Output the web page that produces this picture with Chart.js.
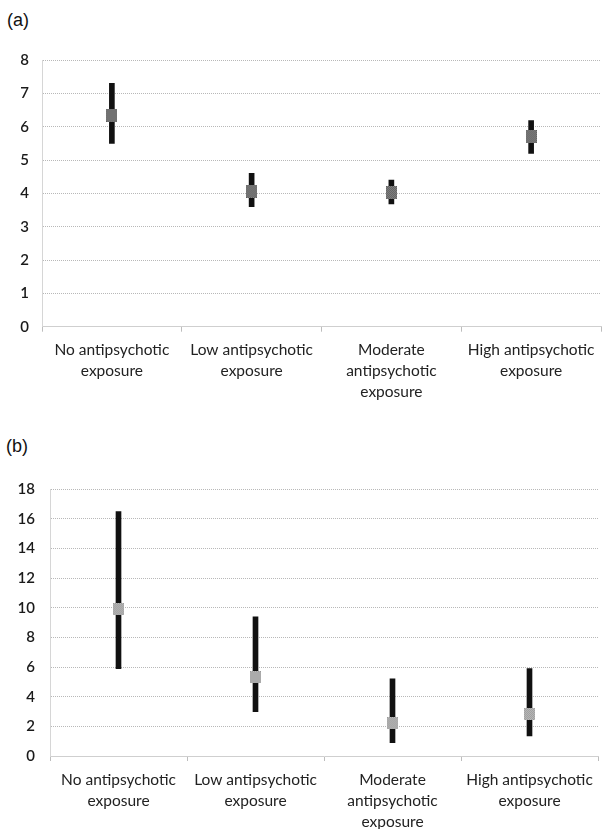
<!DOCTYPE html>
<html>
<head>
<meta charset="utf-8">
<script src="https://cdn.jsdelivr.net/npm/chart.js@4.4.1/dist/chart.umd.min.js"></script>
<style>
  html, body { margin: 0; padding: 0; background: #fff; width: 604px; height: 829px; overflow: hidden; position: relative; }
  .panel { position: absolute; font-family: "Liberation Sans", Arial, sans-serif; font-size: 18px; color: #111; }
  canvas { position: absolute; left: 0; }
</style>
</head>
<body>
<div class="panel" style="left:7px; top:10px;">(a)</div>
<div class="panel" style="left:6px; top:436px;">(b)</div>
<canvas id="chartA" width="608" height="410" style="top:0px;"></canvas>
<canvas id="chartB" width="605" height="399" style="top:430px;"></canvas>
<script>
// ---- data ----
const categories = [
  ["No antipsychotic", "exposure"],
  ["Low antipsychotic", "exposure"],
  ["Moderate", "antipsychotic", "exposure"],
  ["High antipsychotic", "exposure"]
];
// Panel (a)
const meanA  = [6.35, 4.07, 4.02, 5.70];
const lowerA = [5.50, 3.60, 3.68, 5.20];
const upperA = [7.30, 4.60, 4.40, 6.18];
const yTicksA = { min: 0, max: 8, step: 1 };
// Panel (b)
const meanB  = [9.9, 5.3, 2.2, 2.85];
const lowerB = [5.9, 3.0, 0.9, 1.35];
const upperB = [16.5, 9.4, 5.2, 5.9];
const yTicksB = { min: 0, max: 18, step: 2 };

function makeMarker(c1, c2, w, h) {
  const cv = document.createElement('canvas');
  cv.width = w; cv.height = h;
  const g = cv.getContext('2d');
  for (let y = 0; y < h; y++) {
    for (let x = 0; x < w; x++) {
      g.fillStyle = ((x + y) % 2 === 0) ? c1 : c2;
      g.fillRect(x, y, 1, 1);
    }
  }
  return cv;
}

const FONT = "Lato, 'Open Sans', sans-serif";

function buildChart(id, mean, lower, upper, yt, opts) {
  const ranges = lower.map((l, i) => [l, upper[i]]);
  return new Chart(document.getElementById(id), {
    type: 'bar',
    data: {
      labels: categories,
      datasets: [
        {
          type: 'line',
          data: mean,
          showLine: false,
          pointStyle: opts.marker,
          pointRadius: 6,
          pointHoverRadius: 6,
          order: 0
        },
        {
          type: 'bar',
          data: ranges,
          backgroundColor: '#111111',
          borderWidth: 0,
          barThickness: 5,
          order: 1
        }
      ]
    },
    options: {
      responsive: false,
      animation: false,
      events: [],
      layout: { padding: { top: opts.top, left: 0, right: 0, bottom: 0 } },
      plugins: { legend: { display: false }, tooltip: { enabled: false }, title: { display: false } },
      scales: {
        x: {
          type: 'category',
          offset: true,
          afterFit: (s) => { s.height = opts.xHeight; },
          grid: { display: true, offset: true, drawOnChartArea: false, drawTicks: true, tickLength: 5, color: '#bdbdbd' },
          border: { display: true, color: '#cfcfcf', width: 1 },
          ticks: {
            autoSkip: false, maxRotation: 0, minRotation: 0,
            padding: 8,
            color: '#222',
            font: { family: FONT, size: 15.5, lineHeight: 1.36 }
          }
        },
        y: {
          min: yt.min, max: yt.max,
          afterFit: (s) => { s.width = opts.yWidth; },
          grid: { display: true, drawTicks: false, color: '#b8b8b8', lineWidth: 1 },
          border: { display: true, color: '#d6d6d6', dash: [1, 1] },
          ticks: {
            stepSize: yt.step,
            padding: opts.yPad,
            color: '#1a1a1a',
            font: { family: FONT, size: 15, weight: '600' }
          }
        }
      }
    }
  });
}

buildChart('chartA', meanA, lowerA, upperA, yTicksA, {
  marker: makeMarker('#5a5a5a', '#8a8a8a', 11, 13),
  top: 60, xHeight: 410 - 326.7, yWidth: 42, yPad: 13
});
buildChart('chartB', meanB, lowerB, upperB, yTicksB, {
  marker: makeMarker('#9a9a9a', '#bcbcbc', 11, 12),
  top: 59.3, xHeight: 399 - 326, yWidth: 50, yPad: 15
});
</script>
</body>
</html>
